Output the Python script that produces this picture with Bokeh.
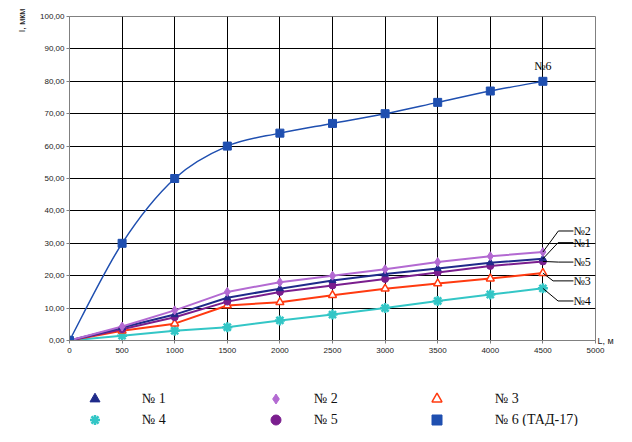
import numpy as np
from bokeh.plotting import figure
from bokeh.models import Range1d, FixedTicker, Legend, LegendItem, LinearAxis, Title
from bokeh.core.properties import value
from bokeh.layouts import column
from bokeh.embed import file_html
from bokeh.resources import INLINE

# ---------------- data ----------------
L_vals = [0, 500, 1000, 1500, 2000, 2500, 3000, 3500, 4000, 4500]
s1 = [0, 4.0, 8.0, 13.2, 16.0, 18.5, 20.5, 22.2, 24.0, 25.2]
s2 = [0, 4.3, 9.3, 15.0, 18.0, 20.0, 22.0, 24.2, 26.0, 27.3]
s3 = [0, 3.0, 5.2, 10.8, 11.8, 14.0, 16.0, 17.6, 19.1, 20.8]
s4 = [0, 1.5, 3.0, 4.1, 6.2, 8.0, 10.0, 12.2, 14.2, 16.1]
s5 = [0, 3.5, 7.2, 12.0, 15.0, 17.0, 19.0, 21.0, 23.0, 24.4]
s6 = [0, 30.0, 50.0, 60.0, 64.0, 67.0, 70.0, 73.5, 77.0, 80.0]

legend_names = ["№ 1", "№ 2", "№ 3", "№ 4", "№ 5", "№ 6 (ТАД-17)"]
end_labels = ["№2", "№1", "№5", "№3", "№4"]
x_ticks = [0, 500, 1000, 1500, 2000, 2500, 3000, 3500, 4000, 4500, 5000]
y_ticks = [0, 10, 20, 30, 40, 50, 60, 70, 80, 90, 100]
y_tick_labels = ["0,00", "10,00", "20,00", "30,00", "40,00", "50,00",
                 "60,00", "70,00", "80,00", "90,00", "100,00"]
y_title = "I, мкм"
x_title = "L, м"

# ---------------- styles / layout ----------------
C1, C2, C3, C4, C5, C6 = "#1F2A8A", "#B36AD2", "#FF3A10", "#33C6C6", "#7A1E8E", "#1F4FB0"
styles = [
    dict(marker="triangle", line_color=C1, fill_color=C1, line_width=1),
    dict(marker="diamond", line_color=C2, fill_color=C2, line_width=1),
    dict(marker="triangle", line_color=C3, fill_color="white", line_width=1.5),
    dict(marker="asterisk", line_color=C4, line_width=2.5),
    dict(marker="circle", line_color=C5, fill_color=C5, line_width=1),
    dict(marker="square", line_color=C6, fill_color=C6, line_width=1),
]

p = figure(width=616, height=360, output_backend="svg", toolbar_location=None,
           x_range=Range1d(0, 5000), y_range=Range1d(0, 100),
           min_border_left=69, min_border_right=18, min_border_top=16, min_border_bottom=20)
p.background_fill_color = "white"
p.border_fill_color = "white"
p.outline_line_color = "#808080"

for ax in (p.xaxis, p.yaxis):
    ax.axis_line_color = "#808080"
    ax.major_tick_line_color = "#808080"
    ax.major_tick_out = 3
    ax.major_tick_in = 0
    ax.minor_tick_line_color = None
    ax.major_label_text_font = "Liberation Sans"
    ax.major_label_text_font_size = "8px"
    ax.major_label_text_color = "#222222"
    ax.major_label_standoff = 2

p.xaxis.ticker = FixedTicker(ticks=x_ticks)
p.xaxis.major_label_standoff = 4
p.yaxis.ticker = FixedTicker(ticks=y_ticks)
p.yaxis.major_label_overrides = {t: lab for t, lab in zip(y_ticks, y_tick_labels)}

# y title at the top of the left side
p.add_layout(Title(text=y_title, align="right", standoff=22, offset=-8,
                   text_font="Liberation Sans", text_font_size="9px",
                   text_font_style="normal", text_color="#222222"), "left")

# x title at the right end of the x axis
xtitle_axis = LinearAxis(ticker=FixedTicker(ticks=[0]), major_label_overrides={0: x_title},
                         axis_line_color=None, major_tick_line_color=None, major_tick_out=0,
                         minor_tick_line_color=None, major_label_standoff=2,
                         major_label_text_font="Liberation Sans", major_label_text_font_size="9px",
                         major_label_text_color="#222222")
p.add_layout(xtitle_axis, "right")

p.xgrid.ticker = FixedTicker(ticks=x_ticks)
p.ygrid.ticker = FixedTicker(ticks=y_ticks)
for g in (p.xgrid, p.ygrid):
    g.grid_line_color = "black"
    g.grid_line_width = 1

# ---- smooth curve for series 6 (Catmull-Rom through the data points) ----
n = len(L_vals)
x0s, y0s, x1s, y1s, cx0, cy0, cx1, cy1 = [], [], [], [], [], [], [], []
for i in range(n - 1):
    im1 = max(i - 1, 0)
    ip2 = min(i + 2, n - 1)
    x0s.append(L_vals[i]); y0s.append(s6[i])
    x1s.append(L_vals[i + 1]); y1s.append(s6[i + 1])
    cx0.append(L_vals[i] + (L_vals[i + 1] - L_vals[im1]) / 6)
    cy0.append(s6[i] + (s6[i + 1] - s6[im1]) / 6)
    cx1.append(L_vals[i + 1] - (L_vals[ip2] - L_vals[i]) / 6)
    cy1.append(s6[i + 1] - (s6[ip2] - s6[i]) / 6)
p.bezier(x0=x0s, y0=y0s, x1=x1s, y1=y1s, cx0=cx0, cy0=cy0, cx1=cx1, cy1=cy1,
         line_color=C6, line_width=1.5)

# ---- other series lines ----
p.line(L_vals, s4, line_color=C4, line_width=2)
p.line(L_vals, s3, line_color=C3, line_width=2)
p.line(L_vals, s5, line_color=C5, line_width=2)
p.line(L_vals, s1, line_color=C1, line_width=2)
p.line(L_vals, s2, line_color=C2, line_width=2)

# ---- markers on the lines ----
p.scatter(L_vals, s4, size=10, **styles[3])
p.scatter(L_vals, s3, size=8, **styles[2])
p.scatter(L_vals, s5, size=7, **styles[4])
p.scatter(L_vals, s1, size=7, **styles[0])
p.scatter(L_vals, s2, size=9, **styles[1])
p.scatter(L_vals, s6, size=8, **styles[5])

# ---- leader lines and end labels ----
series_ends = [s2[-1], s1[-1], s5[-1], s3[-1], s4[-1]]
lab_y = [33.8, 30.2, 24.2, 18.4, 12.2]
bend_x = [4647, 4644, 4647, 4597, 4644]
text_x = 4790
p.multi_line(xs=[[L_vals[-1], bx, text_x] for bx in bend_x],
             ys=[[ye, ly, ly] for ye, ly in zip(series_ends, lab_y)],
             line_color="black", line_width=1)
p.text(x=[text_x] * len(end_labels), y=lab_y, text=end_labels,
       text_font=value("Liberation Serif"), text_font_size="12px",
       text_baseline="alphabetic", text_align="left", text_color="black")
p.text(x=[L_vals[-1]], y=[s6[-1]], text=["№6"], y_offset=-8,
       text_font=value("Liberation Serif"), text_font_size="12px",
       text_baseline="bottom", text_align="center", text_color="black")

# ---------------- legend strip below the chart ----------------
q = figure(width=616, height=66, output_backend="svg", toolbar_location=None,
           x_range=Range1d(0, 1), y_range=Range1d(0, 1),
           min_border_left=0, min_border_right=0, min_border_top=0, min_border_bottom=0)
q.axis.visible = False
q.grid.visible = False
q.outline_line_color = None
q.background_fill_color = "white"
q.border_fill_color = "white"

# positions relative to the (aligned) frame of the legend strip
leg_pos = [(13, 15), (194, 15), (355, 15), (13, -6), (194, -6), (355, -6)]
leg_standoff = [35, 26, 46, 35, 26, 46]
nan_pt = np.array([np.nan])
for name, st, pos, so in zip(legend_names, styles, leg_pos, leg_standoff):
    rend = q.scatter(x=nan_pt, y=nan_pt, **st)
    lg = Legend(items=[LegendItem(label=name, renderers=[rend])], location=pos,
                glyph_width=25, glyph_height=25, padding=0, margin=0,
                label_standoff=so, border_line_color=None, background_fill_alpha=0,
                label_text_font="Liberation Serif", label_text_font_size="14px",
                label_text_color="#111111")
    q.add_layout(lg)

layout = column(p, q, spacing=0)
open("out.html", "w").write(file_html(layout, INLINE))
